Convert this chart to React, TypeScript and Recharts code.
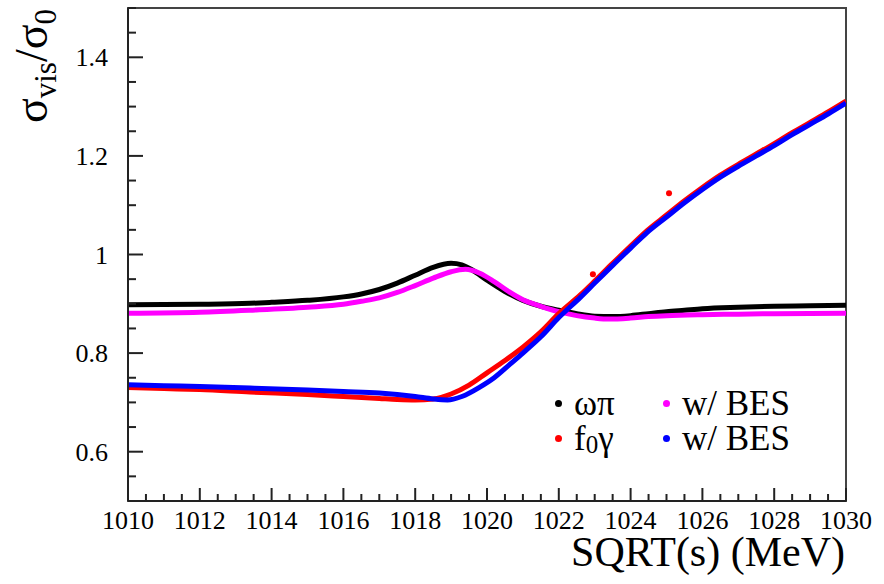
import React from 'react';
import { ComposedChart, Line, Scatter, XAxis, YAxis, ReferenceArea } from 'recharts';

const FONT = '"Liberation Serif"';

// tick labels
const X_MAJOR = [1010, 1012, 1014, 1016, 1018, 1020, 1022, 1024, 1026, 1028, 1030];
const Y_MAJOR = [0.6, 0.8, 1.0, 1.2, 1.4];

// omega pi (black) and with BES spread (magenta)
const omegaPiX = [1010, 1012, 1013.4, 1014, 1015, 1016, 1016.5, 1017, 1017.5, 1018, 1018.5, 1019, 1019.3, 1019.6, 1020, 1020.5, 1021, 1021.5, 1022, 1022.5, 1023, 1023.5, 1024, 1024.5, 1025, 1025.5, 1026, 1027, 1028, 1029, 1030];
const omegaPiY = [0.898, 0.899, 0.901, 0.903, 0.907, 0.914, 0.920, 0.929, 0.942, 0.958, 0.974, 0.982, 0.979, 0.968, 0.948, 0.925, 0.907, 0.895, 0.887, 0.880, 0.875, 0.874, 0.876, 0.880, 0.884, 0.887, 0.890, 0.893, 0.895, 0.896, 0.897];

const omegaPiBesX = [1010, 1012, 1013.4, 1015, 1016, 1016.5, 1017, 1017.5, 1018, 1018.5, 1019, 1019.4, 1019.8, 1020.2, 1020.6, 1021, 1021.5, 1022, 1022.5, 1023, 1023.4, 1024, 1024.5, 1025, 1026, 1027, 1028, 1030];
const omegaPiBesY = [0.881, 0.883, 0.887, 0.893, 0.899, 0.905, 0.912, 0.923, 0.937, 0.952, 0.965, 0.970, 0.962, 0.945, 0.925, 0.908, 0.895, 0.884, 0.876, 0.871, 0.869, 0.871, 0.874, 0.876, 0.878, 0.879, 0.880, 0.881];

// f0 gamma (red) and with BES spread (blue)
const f0GammaX = [1010, 1011, 1012, 1013.4, 1015, 1016, 1017, 1017.5, 1018, 1018.5, 1019, 1019.5, 1020, 1020.5, 1021, 1021.5, 1022, 1022.6, 1023, 1023.5, 1024, 1024.45, 1025, 1025.5, 1026, 1026.5, 1027, 1027.5, 1028, 1028.5, 1029, 1029.5, 1030];
const f0GammaY = [0.730, 0.728, 0.726, 0.721, 0.716, 0.712, 0.708, 0.706, 0.705, 0.707, 0.717, 0.735, 0.760, 0.785, 0.812, 0.843, 0.880, 0.918, 0.946, 0.982, 1.017, 1.048, 1.080, 1.109, 1.136, 1.161, 1.183, 1.204, 1.225, 1.247, 1.268, 1.289, 1.311];
const f0GammaOutX = [1022.95, 1025.07];
const f0GammaOutY = [0.96, 1.124];

const f0GammaBesX = [1010, 1011, 1012, 1013.4, 1015, 1016, 1017, 1017.5, 1018, 1018.5, 1018.9, 1019.3, 1019.8, 1020.2, 1020.65, 1021, 1021.5, 1022, 1022.6, 1023, 1023.5, 1024, 1024.45, 1025, 1025.5, 1026, 1026.5, 1027, 1027.5, 1028, 1028.5, 1029, 1029.5, 1030];
const f0GammaBesY = [0.736, 0.734, 0.732, 0.729, 0.725, 0.722, 0.719, 0.716, 0.712, 0.707, 0.705, 0.712, 0.731, 0.750, 0.778, 0.800, 0.833, 0.872, 0.913, 0.942, 0.978, 1.013, 1.044, 1.076, 1.105, 1.132, 1.157, 1.179, 1.200, 1.221, 1.243, 1.264, 1.285, 1.307];

const zip = (xs: number[], ys: number[]) => xs.map((x, i) => ({ x, y: ys[i] }));

const X_TICKS: number[] = [];
for (let i = 0; i <= 40; i++) X_TICKS.push(1010 + i * 0.5);
const Y_TICKS: number[] = [];
for (let i = 0; i <= 20; i++) Y_TICKS.push(Math.round((0.5 + i * 0.05) * 100) / 100);

const isMajor = (list: number[], v: number) => list.some((m) => Math.abs(m - v) < 1e-6);

function XTick({ x, y, payload }: any) {
  const v = payload.value;
  const major = isMajor(X_MAJOR, v);
  return (
    <g>
      <line x1={x} x2={x} y1={y} y2={y - (major ? 13 : 7)} stroke="#222" strokeWidth={2} />
      {major && (
        <text x={x} y={y + 28} textAnchor="middle" fontSize={26} style={{ fontFamily: FONT }} fill="#000">
          {v}
        </text>
      )}
    </g>
  );
}

function YTick({ x, y, payload }: any) {
  const v = payload.value;
  const major = isMajor(Y_MAJOR, v);
  return (
    <g>
      <line x1={x} x2={x + (major ? 15 : 8)} y1={y} y2={y} stroke="#222" strokeWidth={2} />
      {major && (
        <text x={x - 20} y={y} dy="0.35em" textAnchor="end" fontSize={26} style={{ fontFamily: FONT }} fill="#000">
          {String(Math.round(v * 10) / 10)}
        </text>
      )}
    </g>
  );
}

function YTitle() {
  return (
    <text transform="translate(47,9) rotate(-90)" textAnchor="end" fontSize={46} style={{ fontFamily: FONT }} fill="#000">
      σ<tspan fontSize={31} dy={9}>vis</tspan>
      <tspan dy={-9}>/σ</tspan>
      <tspan fontSize={31} dy={9}>0</tspan>
    </text>
  );
}

function XTitle() {
  return (
    <text x={845} y={566} textAnchor="end" fontSize={42} style={{ fontFamily: FONT }} fill="#000">
      SQRT(s) (MeV)
    </text>
  );
}

const dot = (color: string) => (
  <span style={{ display: 'inline-block', width: 7, height: 7, borderRadius: '50%', background: color, marginRight: 12 }} />
);

function LegendBox() {
  const row: React.CSSProperties = { display: 'flex', alignItems: 'center', height: 35, whiteSpace: 'nowrap' };
  return (
    <div style={{ position: 'absolute', left: 555, top: 386, fontFamily: FONT, fontSize: 35, lineHeight: '35px', color: '#000', display: 'grid', gridTemplateColumns: '108px 140px' }}>
      <div style={row}>{dot('#000')}ωπ</div>
      <div style={row}>{dot('#ff00ff')}w/ BES</div>
      <div style={row}>{dot('#ff0000')}f<sub style={{ fontSize: 25, lineHeight: 0, position: 'relative', top: 6 }}>0</sub>γ</div>
      <div style={row}>{dot('#0000ff')}w/ BES</div>
    </div>
  );
}

const redDot = (props: any) => <circle cx={props.cx} cy={props.cy} r={3} fill="#ff0000" />;

export default function App() {
  return (
    <div style={{ position: 'absolute', left: 0, top: 0, width: 884, height: 584, background: '#fff' }}>
      <ComposedChart width={884} height={584} margin={{ top: 8, right: 38, bottom: 43, left: 68 }}>
        <XAxis
          type="number"
          dataKey="x"
          domain={[1010, 1030]}
          ticks={X_TICKS}
          interval={0}
          allowDataOverflow
          height={40}
          tickSize={0}
          tickMargin={0}
          tickLine={false}
          axisLine={{ stroke: '#222', strokeWidth: 2 }}
          tick={<XTick />}
          label={<XTitle />}
        />
        <YAxis
          type="number"
          dataKey="y"
          domain={[0.5, 1.5]}
          ticks={Y_TICKS}
          interval={0}
          allowDataOverflow
          width={60}
          tickSize={0}
          tickMargin={0}
          tickLine={false}
          axisLine={{ stroke: '#222', strokeWidth: 2 }}
          tick={<YTick />}
          label={<YTitle />}
        />
        <ReferenceArea x1={1010} x2={1030} y1={0.5} y2={1.5} fill="none" stroke="#444" strokeWidth={2} />
        <Line data={zip(omegaPiX, omegaPiY)} dataKey="y" type="monotone" stroke="#000" strokeWidth={5} dot={false} isAnimationActive={false} />
        <Line data={zip(omegaPiBesX, omegaPiBesY)} dataKey="y" type="monotone" stroke="#ff00ff" strokeWidth={5} dot={false} isAnimationActive={false} />
        <Line data={zip(f0GammaX, f0GammaY)} dataKey="y" type="monotone" stroke="#ff0000" strokeWidth={5} dot={false} isAnimationActive={false} />
        <Line data={zip(f0GammaBesX, f0GammaBesY)} dataKey="y" type="monotone" stroke="#0000ff" strokeWidth={5} dot={false} isAnimationActive={false} />
        <Scatter data={zip(f0GammaOutX, f0GammaOutY)} dataKey="y" shape={redDot} isAnimationActive={false} />
      </ComposedChart>
      <LegendBox />
    </div>
  );
}
